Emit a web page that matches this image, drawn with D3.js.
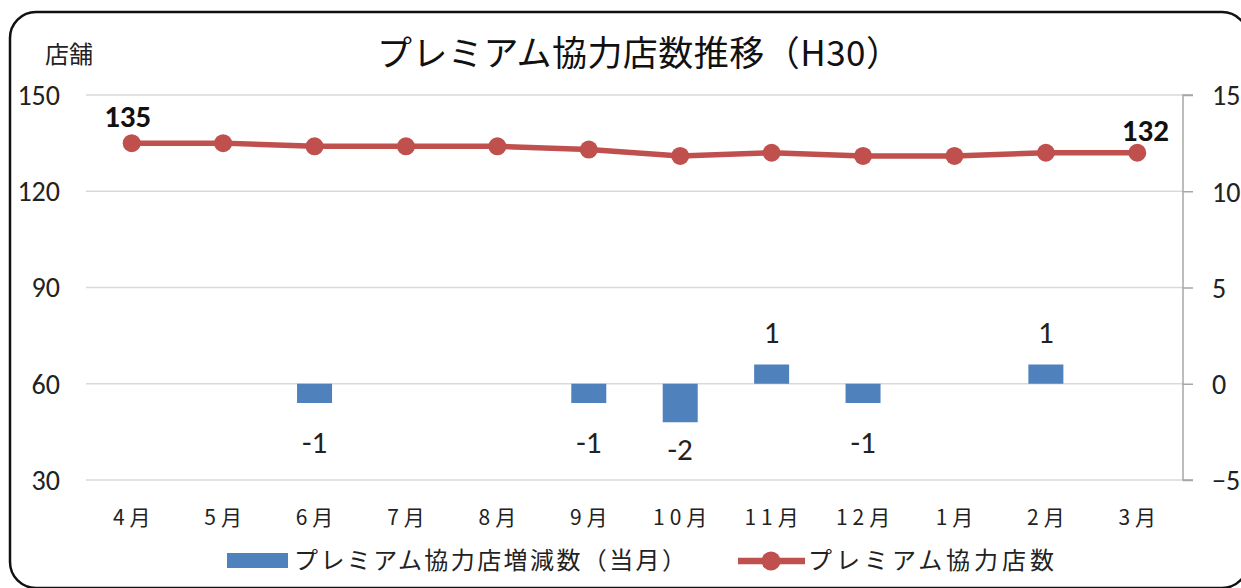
<!DOCTYPE html>
<html><head><meta charset="utf-8">
<script src="https://cdn.jsdelivr.net/npm/d3@7"></script>
<style>body{margin:0;background:#fff}svg{display:block}</style>
</head><body>
<svg id="c" width="1241" height="588"></svg>
<script>
const months = ["4月","5月","6月","7月","8月","9月","10月","11月","12月","1月","2月","3月"];
const storeCount = [135,135,134,134,134,133,131,132,131,131,132,132];
const monthlyChange = [0,0,-1,0,0,-1,-2,1,-1,0,1,0];
const leftTicks = [30,60,90,120,150];
const rightTicks = [-5,0,5,10,15];
const title = "プレミアム協力店数推移（H30）";
const leftUnit = "店舗";
const legendBar = "プレミアム協力店増減数（当月）";
const legendLine = "プレミアム協力店数";

const svg = d3.select("#c");
const L = 86, R = 1183, T = 95, B = 480;
const jp = "'Noto Sans CJK JP', sans-serif";
const num = "Carlito, 'Open Sans', 'Liberation Sans', sans-serif";

svg.append("rect").attr("x",10).attr("y",12).attr("width",1238).attr("height",576)
  .attr("rx",26).attr("fill","#fff").attr("stroke","#111").attr("stroke-width",2.5);

const x = d3.scaleBand().domain(months).range([L,R]);
const cx = d => x(d)+x.bandwidth()/2;
const yL = d3.scaleLinear().domain([30,150]).range([B,T]);
const yR = d3.scaleLinear().domain([-5,15]).range([B,T]);

// gridlines
svg.append("g").selectAll("line").data(leftTicks).join("line")
  .attr("x1",L).attr("x2",R).attr("y1",d=>yL(d)).attr("y2",d=>yL(d))
  .attr("stroke","#d9d9d9").attr("stroke-width",1.5);

// left axis labels
svg.append("g").selectAll("text").data(leftTicks).join("text")
  .attr("x",60).attr("y",d=>yL(d)).attr("dy","0.35em").attr("text-anchor","end")
  .attr("font-family",num).attr("font-size",28).attr("fill","#222").text(d=>d);

// right axis
const ra = d3.axisRight(yR).tickValues(rightTicks).tickSize(10);
const rg = svg.append("g").attr("transform",`translate(${R},0)`).call(ra);
rg.select(".domain").attr("stroke","#a6a6a6").attr("stroke-width",1.5).attr("d",`M10,${T}H0V${B}H10`);
rg.selectAll(".tick line").attr("stroke","#a6a6a6").attr("stroke-width",1.5);
rg.selectAll(".tick text").attr("x",29).attr("dy","0.35em").attr("text-anchor","start")
  .attr("font-family",num).attr("font-size",28).attr("fill","#222");

// x labels
svg.append("g").selectAll("text").data(months).join("text")
  .attr("x",d=>cx(d)+2.5).attr("y",517).attr("dy","0.36em").attr("text-anchor","middle")
  .attr("letter-spacing",5)
  .attr("font-family",jp).attr("font-size",21).attr("fill","#222").text(d=>d);

// bars
const bw = 35;
const bars = months.map((m,i)=>({m,v:monthlyChange[i]})).filter(d=>d.v!==0);
svg.append("g").selectAll("rect").data(bars).join("rect")
  .attr("x",d=>cx(d.m)-bw/2).attr("width",bw)
  .attr("y",d=>Math.min(yR(d.v),yR(0))).attr("height",d=>Math.abs(yR(d.v)-yR(0)))
  .attr("fill","#4f81bd");
svg.append("g").selectAll("text").data(bars).join("text")
  .attr("x",d=>cx(d.m)).attr("text-anchor","middle")
  .attr("y",d=>d.v>0 ? yR(d.v)-32 : yR(0)+51+7*Math.abs(d.v)).attr("dy","0.35em")
  .attr("font-family",num).attr("font-size",31).attr("fill","#222").text(d=>d.v);

// line
const pts = months.map((m,i)=>({m,v:storeCount[i]}));
svg.append("path").datum(pts)
  .attr("d",d3.line().x(d=>cx(d.m)).y(d=>yL(d.v)))
  .attr("fill","none").attr("stroke","#c0504d").attr("stroke-width",5.5);
svg.append("g").selectAll("circle").data(pts).join("circle")
  .attr("cx",d=>cx(d.m)).attr("cy",d=>yL(d.v)).attr("r",9).attr("fill","#c0504d");

// end labels
svg.append("text").attr("x",cx(pts[0].m)-4).attr("y",yL(pts[0].v)-16)
  .attr("text-anchor","middle").attr("font-family",num).attr("font-weight","bold")
  .attr("font-size",31).attr("fill","#111").text(pts[0].v);
const li = pts.length-1;
svg.append("text").attr("x",cx(pts[li].m)+8).attr("y",yL(pts[li].v)-12)
  .attr("text-anchor","middle").attr("font-family",num).attr("font-weight","bold")
  .attr("font-size",31).attr("fill","#111").text(pts[li].v);

// title & unit
svg.append("text").attr("x",377).attr("y",53).attr("dy","0.36em")
  .attr("textLength",524).attr("lengthAdjust","spacing")
  .attr("font-family",jp).attr("font-size",35).attr("fill","#111").text(title);
svg.append("text").attr("x",45).attr("y",54).attr("dy","0.36em")
  .attr("font-family",jp).attr("font-size",24).attr("fill","#222").text(leftUnit);

// legend
svg.append("rect").attr("x",227).attr("y",553).attr("width",61).attr("height",15).attr("fill","#4f81bd");
svg.append("text").attr("x",294).attr("y",560).attr("dy","0.36em")
  .attr("textLength",392).attr("lengthAdjust","spacing")
  .attr("font-family",jp).attr("font-size",24).attr("fill","#222").text(legendBar);
svg.append("line").attr("x1",738).attr("x2",805).attr("y1",561).attr("y2",561)
  .attr("stroke","#c0504d").attr("stroke-width",6.5);
svg.append("circle").attr("cx",771).attr("cy",561).attr("r",9.5).attr("fill","#c0504d");
svg.append("text").attr("x",808).attr("y",560).attr("dy","0.36em")
  .attr("textLength",246).attr("lengthAdjust","spacing")
  .attr("font-family",jp).attr("font-size",24).attr("fill","#222").text(legendLine);
</script>
</body></html>
